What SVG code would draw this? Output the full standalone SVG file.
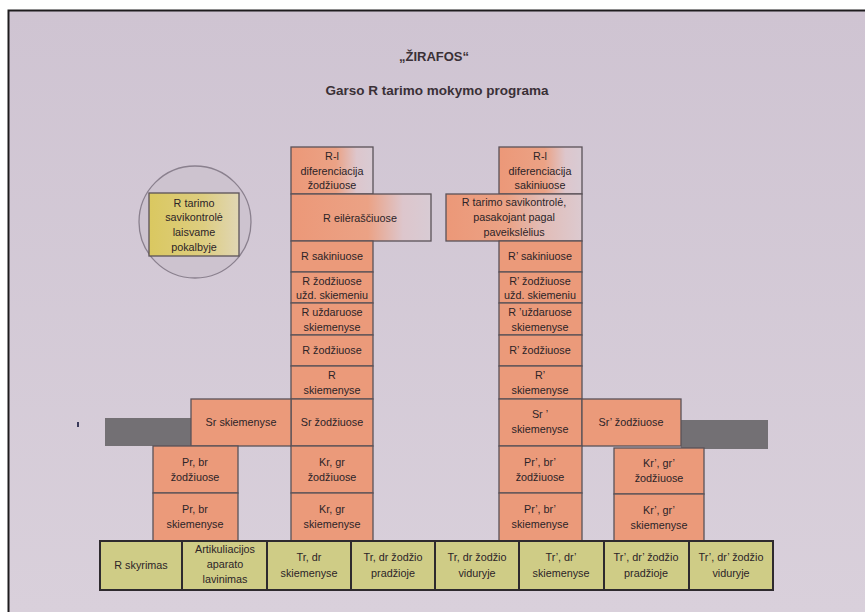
<svg xmlns="http://www.w3.org/2000/svg" width="865" height="612" viewBox="0 0 865 612">
<defs>
<linearGradient id="paper" x1="0" y1="0" x2="0" y2="1">
<stop offset="0" stop-color="#cfc4d2"/>
<stop offset="1" stop-color="#d9d0db"/>
</linearGradient>
<linearGradient id="halfL" x1="0" y1="0" x2="1" y2="0">
<stop offset="0" stop-color="#ec9878"/>
<stop offset="0.55" stop-color="#eba285"/>
<stop offset="0.8" stop-color="#ddc6cc"/>
<stop offset="1" stop-color="#d8cbd4"/>
</linearGradient>
<linearGradient id="halfR" x1="0" y1="0" x2="1" y2="0">
<stop offset="0" stop-color="#ec9878"/>
<stop offset="0.45" stop-color="#eba285"/>
<stop offset="0.7" stop-color="#e2bcb6"/>
<stop offset="1" stop-color="#dccad0"/>
</linearGradient>
<linearGradient id="yel" x1="0" y1="0" x2="1" y2="0">
<stop offset="0" stop-color="#dac860"/>
<stop offset="0.6" stop-color="#ddcd80"/>
<stop offset="1" stop-color="#e0d6b4"/>
</linearGradient>
</defs>
<style>
.o{fill:#eb9a7a;stroke:#5a5258;stroke-width:1.3}
.g{fill:#cfcc86;stroke:#2e2a2e;stroke-width:2}
.bar{fill:#737074}
.t{font-family:"Liberation Sans",Arial,sans-serif;font-size:10.8px;fill:#2c2428;text-anchor:middle}
.h{font-family:"Liberation Sans",Arial,sans-serif;font-weight:bold;fill:#3a3036;text-anchor:middle}
</style>
<rect x="0" y="0" width="865" height="612" fill="#ffffff"/>
<rect x="9" y="11" width="856" height="601" fill="url(#paper)"/>
<path d="M8.5 612 V10.5 H865" fill="none" stroke="#1e1c1e" stroke-width="2"/>

<g id="title">
<text class="h" x="434" y="61" font-size="13">„ŽIRAFOS“</text>
<text class="h" x="437" y="95" font-size="13.5">Garso R tarimo mokymo programa</text>
</g>

<rect x="77" y="422" width="2" height="5" fill="#3a3a5a"/>

<g id="circle">
<circle cx="195" cy="222" r="56" fill="#cdc3cf" stroke="#8a808e" stroke-width="1.3"/>
<rect x="149" y="193" width="90" height="63" fill="url(#yel)" stroke="#5a5258" stroke-width="1.3"/>
<text class="t" x="194" y="207">R tarimo</text>
<text class="t" x="194" y="221">savikontrolė</text>
<text class="t" x="194" y="236">laisvame</text>
<text class="t" x="194" y="251">pokalbyje</text>
</g>

<g id="bars">
<rect class="bar" x="105" y="418" width="86" height="28"/>
<rect class="bar" x="681" y="420" width="87" height="29"/>
</g>

<g id="left-col">
<g id="l1"><rect x="291" y="147" width="82" height="47" fill="url(#halfL)" stroke="#5a5258" stroke-width="1.3"/>
<text class="t" x="332" y="160">R-l</text><text class="t" x="332" y="175">diferenciacija</text><text class="t" x="332" y="189">žodžiuose</text></g>
<g id="l2"><rect x="291" y="194" width="140" height="47" fill="url(#halfL)" stroke="#5a5258" stroke-width="1.3"/>
<text class="t" x="360" y="222">R eilėraščiuose</text></g>
<g id="l3"><rect class="o" x="291" y="241" width="82" height="31"/>
<text class="t" x="332" y="260">R sakiniuose</text></g>
<g id="l4"><rect class="o" x="291" y="272" width="82" height="31"/>
<text class="t" x="332" y="285">R žodžiuose</text><text class="t" x="332" y="299">užd. skiemeniu</text></g>
<g id="l5"><rect class="o" x="291" y="303" width="82" height="32"/>
<text class="t" x="332" y="316">R uždaruose</text><text class="t" x="332" y="331">skiemenyse</text></g>
<g id="l6"><rect class="o" x="291" y="335" width="82" height="31"/>
<text class="t" x="332" y="354">R žodžiuose</text></g>
<g id="l7"><rect class="o" x="291" y="366" width="82" height="33"/>
<text class="t" x="332" y="379">R</text><text class="t" x="332" y="394">skiemenyse</text></g>
<g id="l8"><rect class="o" x="291" y="399" width="82" height="47"/>
<text class="t" x="332" y="426">Sr žodžiuose</text></g>
<g id="l9"><rect class="o" x="191" y="399" width="100" height="47"/>
<text class="t" x="241" y="426">Sr skiemenyse</text></g>
<g id="l10"><rect class="o" x="291" y="446" width="82" height="47"/>
<text class="t" x="332" y="466">Kr, gr</text><text class="t" x="332" y="481">žodžiuose</text></g>
<g id="l11"><rect class="o" x="291" y="493" width="82" height="48"/>
<text class="t" x="332" y="513">Kr, gr</text><text class="t" x="332" y="528">skiemenyse</text></g>
<g id="l12"><rect class="o" x="153" y="446" width="85" height="47"/>
<text class="t" x="195" y="466">Pr, br</text><text class="t" x="195" y="481">žodžiuose</text></g>
<g id="l13"><rect class="o" x="153" y="493" width="85" height="48"/>
<text class="t" x="195" y="513">Pr, br</text><text class="t" x="195" y="528">skiemenyse</text></g>
</g>

<g id="right-col">
<g id="r1"><rect x="499" y="147" width="83" height="47" fill="url(#halfL)" stroke="#5a5258" stroke-width="1.3"/>
<text class="t" x="540" y="160">R-l</text><text class="t" x="540" y="175">diferenciacija</text><text class="t" x="540" y="189">sakiniuose</text></g>
<g id="r2"><rect x="446" y="194" width="136" height="47" fill="url(#halfR)" stroke="#5a5258" stroke-width="1.3"/>
<text class="t" x="514" y="206">R tarimo savikontrolė,</text><text class="t" x="514" y="221">pasakojant pagal</text><text class="t" x="514" y="236">paveikslėlius</text></g>
<g id="r3"><rect class="o" x="499" y="241" width="83" height="31"/>
<text class="t" x="540" y="260">R’ sakiniuose</text></g>
<g id="r4"><rect class="o" x="499" y="272" width="83" height="31"/>
<text class="t" x="540" y="285">R’ žodžiuose</text><text class="t" x="540" y="299">užd. skiemeniu</text></g>
<g id="r5"><rect class="o" x="499" y="303" width="83" height="32"/>
<text class="t" x="540" y="316">R ’uždaruose</text><text class="t" x="540" y="331">skiemenyse</text></g>
<g id="r6"><rect class="o" x="499" y="335" width="83" height="31"/>
<text class="t" x="540" y="354">R’ žodžiuose</text></g>
<g id="r7"><rect class="o" x="499" y="366" width="83" height="33"/>
<text class="t" x="540" y="379">R’</text><text class="t" x="540" y="394">skiemenyse</text></g>
<g id="r8"><rect class="o" x="499" y="399" width="83" height="47"/>
<text class="t" x="540" y="418">Sr ’</text><text class="t" x="540" y="433">skiemenyse</text></g>
<g id="r9"><rect class="o" x="582" y="399" width="99" height="47"/>
<text class="t" x="631" y="426">Sr’ žodžiuose</text></g>
<g id="r10"><rect class="o" x="499" y="446" width="83" height="47"/>
<text class="t" x="540" y="466">Pr’, br’</text><text class="t" x="540" y="481">žodžiuose</text></g>
<g id="r11"><rect class="o" x="499" y="493" width="83" height="48"/>
<text class="t" x="540" y="513">Pr’, br’</text><text class="t" x="540" y="528">skiemenyse</text></g>
<g id="r12"><rect class="o" x="614" y="448" width="90" height="46"/>
<text class="t" x="659" y="467">Kr’, gr’</text><text class="t" x="659" y="482">žodžiuose</text></g>
<g id="r13"><rect class="o" x="614" y="494" width="90" height="47"/>
<text class="t" x="659" y="514">Kr’, gr’</text><text class="t" x="659" y="529">skiemenyse</text></g>
</g>

<g id="bottom-row">
<g id="b1"><rect class="g" x="100" y="541" width="82" height="49"/>
<text class="t" x="141" y="569">R skyrimas</text></g>
<g id="b2"><rect class="g" x="182" y="541" width="85" height="49"/>
<text class="t" x="225" y="553">Artikuliacijos</text><text class="t" x="225" y="568">aparato</text><text class="t" x="225" y="583">lavinimas</text></g>
<g id="b3"><rect class="g" x="267" y="541" width="84" height="49"/>
<text class="t" x="309" y="561">Tr, dr</text><text class="t" x="309" y="577">skiemenyse</text></g>
<g id="b4"><rect class="g" x="351" y="541" width="84" height="49"/>
<text class="t" x="393" y="561">Tr, dr žodžio</text><text class="t" x="393" y="577">pradžioje</text></g>
<g id="b5"><rect class="g" x="435" y="541" width="84" height="49"/>
<text class="t" x="477" y="561">Tr, dr žodžio</text><text class="t" x="477" y="577">viduryje</text></g>
<g id="b6"><rect class="g" x="519" y="541" width="85" height="49"/>
<text class="t" x="561" y="561">Tr’, dr’</text><text class="t" x="561" y="577">skiemenyse</text></g>
<g id="b7"><rect class="g" x="604" y="541" width="85" height="49"/>
<text class="t" x="646" y="561">Tr’, dr’ žodžio</text><text class="t" x="646" y="577">pradžioje</text></g>
<g id="b8"><rect class="g" x="689" y="541" width="84" height="49"/>
<text class="t" x="731" y="561">Tr’, dr’ žodžio</text><text class="t" x="731" y="577">viduryje</text></g>
</g>
</svg>
